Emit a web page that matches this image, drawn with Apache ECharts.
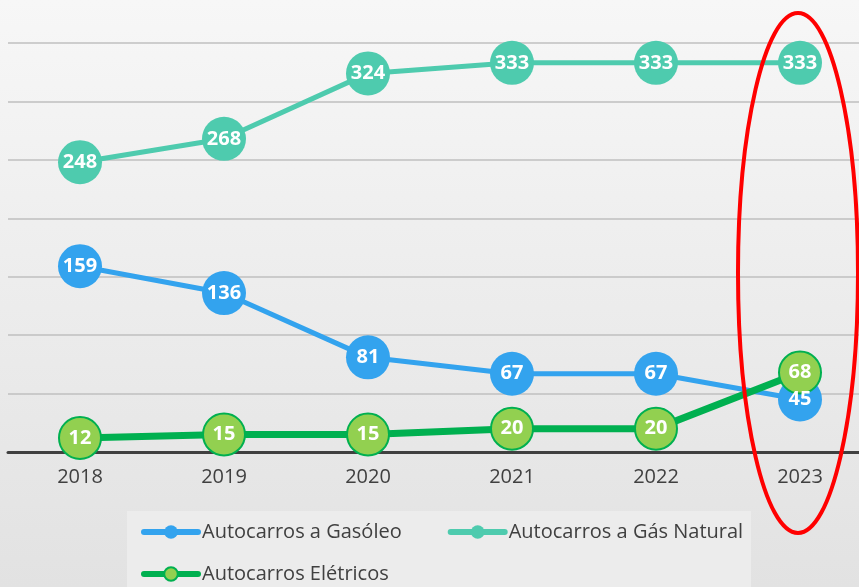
<!DOCTYPE html>
<html>
<head>
<meta charset="utf-8">
<script src="https://cdn.jsdelivr.net/npm/echarts@6/dist/echarts.min.js"></script>
<style>
    html, body { margin: 0; padding: 0; }
    body { background: linear-gradient(#f7f7f7, #e2e2e2); }
    #chart { width: 859px; height: 587px; }
</style>
</head>
<body>
<div id="chart"></div>
<script>
// 数据
const years = ['2018', '2019', '2020', '2021', '2022', '2023'];
const gasoleo = [159, 136, 81, 67, 67, 45];
const gasNatural = [248, 268, 324, 333, 333, 333];
const eletricos = [12, 15, 15, 20, 20, 68];
const seriesNames = ['Autocarros a Gasóleo', 'Autocarros a Gás Natural', 'Autocarros Elétricos'];

const FONT = '"Open Sans", sans-serif';

const chart = echarts.init(document.getElementById('chart'));

// 圆点里的数字
const pointLabel = {
    show: true,
    position: 'inside',
    color: '#ffffff',
    fontWeight: 'bold',
    fontSize: 20,
    fontFamily: FONT
};

// 图例公共样式
const legendBase = {
    left: 136,
    itemWidth: 54,
    itemHeight: 17,
    itemGap: 46,
    lineStyle: { width: 6, cap: 'round' },
    textStyle: { fontSize: 20, color: '#404040', fontFamily: FONT, padding: [0, 0, 0, -1] }
};

const option = {
    animation: false,
    grid: {
        left: 8,
        width: 864,
        top: 43,
        bottom: 135,
        outerBoundsMode: 'none'
    },
    legend: [
        Object.assign({}, legendBase, { data: [seriesNames[0], seriesNames[1]], top: 517 }),
        Object.assign({}, legendBase, { data: [seriesNames[2]], top: 559 })
    ],
    xAxis: {
        type: 'category',
        data: years,
        boundaryGap: true,
        axisLine: { lineStyle: { color: '#404040', width: 3 } },
        axisTick: { show: false },
        axisLabel: { fontSize: 20, color: '#404040', fontFamily: FONT, margin: 15 }
    },
    yAxis: {
        type: 'value',
        min: 0,
        max: 350,
        interval: 50,
        axisLabel: { show: false },
        axisLine: { show: false },
        axisTick: { show: false },
        splitLine: { lineStyle: { color: '#bfbfbf', width: 1.5 } }
    },
    series: [
        {
            name: seriesNames[0],
            type: 'line',
            data: gasoleo,
            symbol: 'circle',
            symbolSize: 44,
            lineStyle: { color: '#33a3ee', width: 5 },
            itemStyle: { color: '#33a3ee' },
            label: pointLabel
        },
        {
            name: seriesNames[1],
            type: 'line',
            data: gasNatural,
            symbol: 'circle',
            symbolSize: 44,
            lineStyle: { color: '#4ecbae', width: 5 },
            itemStyle: { color: '#4ecbae' },
            label: pointLabel
        },
        {
            name: seriesNames[2],
            type: 'line',
            data: eletricos,
            symbol: 'circle',
            symbolSize: 42,
            lineStyle: { color: '#00b050', width: 7 },
            itemStyle: { color: '#92d050', borderColor: '#00b050', borderWidth: 2 },
            label: pointLabel
        }
    ],
    graphic: [
        // 图例背景
        {
            type: 'rect',
            z: -10,
            shape: { x: 127, y: 511, width: 624, height: 80 },
            style: { fill: '#ececec' }
        },
        // 红色椭圆标注
        {
            type: 'ellipse',
            z: 100,
            shape: { cx: 798, cy: 273, rx: 60, ry: 260 },
            style: { fill: 'none', stroke: '#ff0000', lineWidth: 4 }
        }
    ]
};

chart.setOption(option);
</script>
</body>
</html>
